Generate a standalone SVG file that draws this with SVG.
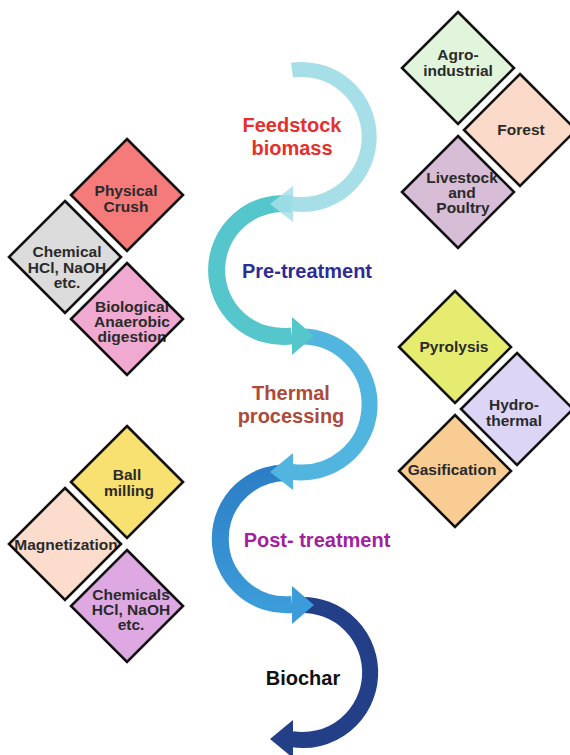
<svg xmlns="http://www.w3.org/2000/svg" width="570" height="755" viewBox="0 0 570 755">
<defs>
<polygon id="dia" points="0,-56 56,0 0,56 -56,0"/>
<linearGradient id="g4" x1="0" y1="0" x2="0" y2="1"><stop offset="0" stop-color="#2c7fc6"/><stop offset="1" stop-color="#3c9bd9"/></linearGradient>
</defs>
<style>
.edge{fill:none;stroke:#111;stroke-width:2.6;stroke-linejoin:miter}
.t{font-family:"Liberation Sans",Arial,sans-serif;font-weight:bold;font-size:15.5px;fill:#2a2a2a;text-anchor:middle}
.big{font-family:"Liberation Sans",Arial,sans-serif;font-weight:bold;font-size:20px;text-anchor:middle}
.arc{fill:none;stroke-linecap:butt}
</style>
<rect width="570" height="755" fill="#fff"/>

<g id="connectors">
  <g id="arc5">
    <path class="arc" d="M 300 605.1 A 67.5 67.5 0 1 1 292 739.2" stroke="#223f88" stroke-width="16"/>
    <polygon points="293,720 293,758 270,739" fill="#223f88"/>
  </g>
  <g id="arc4">
    <path class="arc" d="M 292 473 A 66 66 0 1 0 292 604.5" stroke="url(#g4)" stroke-width="17"/>
    <polygon points="292,586 292,624 314,605" fill="#3c9bd9"/>
  </g>
  <g id="arc3">
    <path class="arc" d="M 300 336.5 A 68 68 0 1 1 292 471.8" stroke="#52b5df" stroke-width="16"/>
    <polygon points="293,453 293,490 270,472" fill="#52b5df"/>
  </g>
  <g id="arc2">
    <path class="arc" d="M 292 204.1 A 66.5 66.5 0 1 0 292 335.9" stroke="#55c6cc" stroke-width="17"/>
    <polygon points="292,317 292,355 314,336" fill="#55c6cc"/>
  </g>
  <g id="arc1">
    <path class="arc" d="M 292 70.2 A 67.5 67.5 0 1 1 292 203.8" stroke="#a7dfe8" stroke-width="15"/>
    <polygon points="293,186 293,222 270,204" fill="#a7dfe8" fill-opacity="0.85"/>
  </g>
</g>

<g id="stage-feedstock"><text class="big" x="292" y="132" fill="#e5302b">Feedstock</text><text class="big" x="292" y="155" fill="#e5302b">biomass</text></g>
<g id="stage-pretreatment"><text class="big" x="307" y="278" fill="#2f2c96">Pre-treatment</text></g>
<g id="stage-thermal"><text class="big" x="291" y="400" fill="#ad4a3a">Thermal</text><text class="big" x="291" y="423" fill="#ad4a3a">processing</text></g>
<g id="stage-post"><text class="big" x="317" y="547" fill="#a3219e">Post- treatment</text></g>
<g id="stage-biochar"><text class="big" x="303" y="685" fill="#111">Biochar</text></g>

<g id="agro" transform="translate(458,68)"><use href="#dia" fill="#e1f5dd"/><text class="t" x="0" y="-8">Agro-</text><text class="t" x="0" y="8">industrial</text><use href="#dia" class="edge"/></g>
<g id="forest" transform="translate(520,130)"><use href="#dia" fill="#fcdac9"/><text class="t" x="1" y="5">Forest</text><use href="#dia" class="edge"/></g>
<g id="livestock" transform="translate(458,192)"><use href="#dia" fill="#d8bdd6"/><text class="t" x="4" y="-9">Livestock</text><text class="t" x="4" y="6">and</text><text class="t" x="5" y="21">Poultry</text><use href="#dia" class="edge"/></g>

<g id="physical" transform="translate(127,195)"><use href="#dia" fill="#f47b79"/><text class="t" x="-1" y="1">Physical</text><text class="t" x="-1" y="17">Crush</text><use href="#dia" class="edge"/></g>
<g id="chemical" transform="translate(65,257)"><use href="#dia" fill="#dcdcdc"/><text class="t" x="2" y="0">Chemical</text><text class="t" x="2" y="15.5">HCl, NaOH</text><text class="t" x="2" y="31">etc.</text><use href="#dia" class="edge"/></g>
<g id="biological" transform="translate(127,319)"><use href="#dia" fill="#f0aad2"/><text class="t" x="5" y="-7">Biological</text><text class="t" x="5" y="8">Anaerobic</text><text class="t" x="5" y="23">digestion</text><use href="#dia" class="edge"/></g>

<g id="pyrolysis" transform="translate(455,347)"><use href="#dia" fill="#e6ec70"/><text class="t" x="-1" y="5">Pyrolysis</text><use href="#dia" class="edge"/></g>
<g id="hydrothermal" transform="translate(517,409)"><use href="#dia" fill="#ddd5f5"/><text class="t" x="-3" y="1">Hydro-</text><text class="t" x="-3" y="17">thermal</text><use href="#dia" class="edge"/></g>
<g id="gasification" transform="translate(455,471)"><use href="#dia" fill="#f8cc92"/><text class="t" x="-3" y="4">Gasification</text><use href="#dia" class="edge"/></g>

<g id="ballmilling" transform="translate(127,482)"><use href="#dia" fill="#f8e071"/><text class="t" x="0" y="-2">Ball</text><text class="t" x="2" y="14">milling</text><use href="#dia" class="edge"/></g>
<g id="magnetization" transform="translate(65,544)"><use href="#dia" fill="#fcdccc"/><text class="t" x="1" y="6">Magnetization</text><use href="#dia" class="edge"/></g>
<g id="chemicals" transform="translate(127,606)"><use href="#dia" fill="#dea9e2"/><text class="t" x="4" y="-6">Chemicals</text><text class="t" x="4" y="9">HCl, NaOH</text><text class="t" x="4" y="24">etc.</text><use href="#dia" class="edge"/></g>
</svg>
